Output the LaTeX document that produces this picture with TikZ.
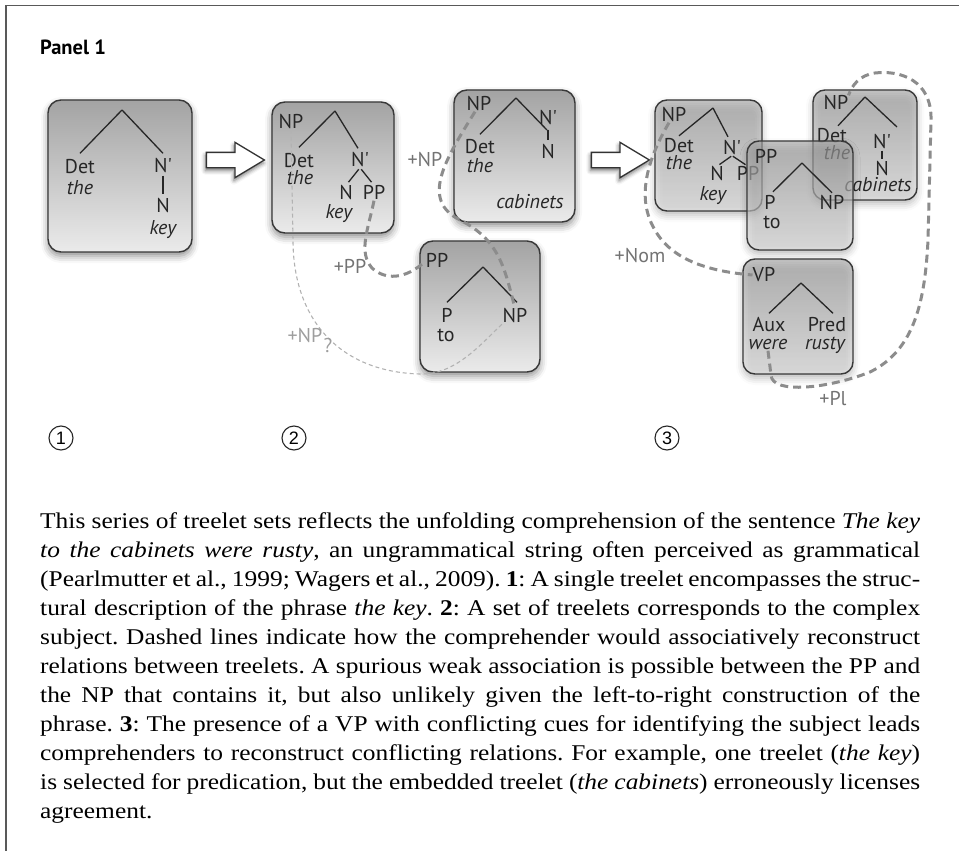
\documentclass[tikz,border=0pt]{standalone}
\usepackage{fontspec}
\setmainfont{Liberation Serif}
\newfontfamily\capfont[FakeStretch=1.13]{Liberation Serif}
\newfontfamily\labfont{PT Sans}
\newfontfamily\numfont{Liberation Sans}
\usetikzlibrary{shadows.blur,shapes.arrows}

\begin{document}
\begin{tikzpicture}[x=1pt,y=-1pt,
  treebox/.style={draw=black!78, line width=1.4pt, rounded corners=13pt,
    top color=black!36, bottom color=black!8, inner sep=0pt,
    blur shadow={shadow xshift=0pt, shadow yshift=-4pt, shadow blur radius=7pt, shadow opacity=45}},
  glassbox/.style={treebox, rounded corners=12pt, fill opacity=0.6},
  lab/.style={font=\labfont\fontsize{20}{22}\selectfont, text=black!85,
    inner sep=0pt, text height=14pt, text depth=1pt},
  word/.style={lab, font=\labfont\itshape\fontsize{20}{22}\selectfont},
  cue/.style={lab, text=black!55},
  faintcue/.style={lab, text=black!38},
  leg/.style={line width=1.3pt, draw=black!85},
  twig/.style={leg, shorten <=2pt, shorten >=4pt},
  heavy/.style={line width=3pt, draw=black!45, dash pattern=on 8pt off 5pt},
  faint/.style={line width=1.1pt, draw=black!30, dash pattern=on 4pt off 3pt},
  hollow/.style={single arrow, draw=black!80, fill=white, line width=1.3pt,
    single arrow head extend=10pt, single arrow tip angle=62, inner sep=0pt,
    text height=7pt, text depth=7pt, minimum height=58pt,
    blur shadow={shadow xshift=-1pt, shadow yshift=-3pt, shadow blur radius=4pt, shadow opacity=55}},
  circ/.style={circle, draw=black!85, line width=1.1pt, minimum size=24pt, inner sep=0pt,
    font=\numfont\fontsize{18}{18}\selectfont},
  title/.style={font=\labfont\bfseries\fontsize{20.5}{22}\selectfont, inner sep=0pt, anchor=west}
]
\useasboundingbox (0,0) rectangle (959,851);

% frame
\draw[line width=1.4pt, black!65] (6,851) -- (6,5.5) -- (959,5.5);

\node[title] (ttl) at (40,47) {Panel 1};

% ---------------- stage 1 ----------------
\node[treebox, minimum width=144pt, minimum height=152pt] (b1) at (120,176) {};
\coordinate (t1) at (122,110);
\node[lab]  (t1det)  at (80,167)  {Det};
\node[word] (t1the)  at (80,188)  {the};
\node[lab]  (t1nbar) at (163,166) {N\textquotesingle};
\node[lab]  (t1n)    at (163,206) {N};
\node[word] (t1key)  at (163,228) {key};
\draw[leg] (t1) -- ([yshift=6pt]t1det.north);
\draw[leg] (t1) -- ([yshift=5pt]t1nbar.north);
\draw[twig] (t1nbar.south) -- (t1n.north);

\node[hollow] (arr1) at (229,160) {};

% ---------------- stage 2 ----------------
\node[treebox, minimum width=122pt, minimum height=131pt] (b2) at (333,167.5) {};
\coordinate (t2) at (335,111);
\node[lab]  (t2np)   at (291,122) {NP};
\node[lab]  (t2det)  at (299,161) {Det};
\node[word] (t2the)  at (300,178) {the};
\node[lab]  (t2nbar) at (360,160) {N\textquotesingle};
\node[lab]  (t2n)    at (346,193) {N};
\node[lab]  (t2pp)   at (374,193) {PP};
\node[word] (t2key)  at (339,212) {key};
\draw[leg] (t2) -- ([yshift=6pt]t2det.north);
\draw[leg] (t2) -- ([xshift=-2pt,yshift=4pt]t2nbar.north);
\draw[twig] (t2nbar.south) -- (t2n.north);
\draw[twig] (t2nbar.south) -- (t2pp.north);

\node[treebox, minimum width=121pt, minimum height=132pt] (b3) at (514.5,156) {};
\coordinate (t3) at (516,98);
\coordinate (t3r) at (547,130);
\node[lab]  (t3np)   at (479,104) {NP};
\node[lab]  (t3det)  at (480,147) {Det};
\node[word] (t3the)  at (480,166) {the};
\node[lab]  (t3nbar) at (548,118) {N\textquotesingle};
\node[lab]  (t3n)    at (548,152) {N};
\node[word] (t3cab)  at (530,202) {cabinets};
\draw[leg] (t3) -- ([yshift=5pt]t3det.north);
\draw[leg] (t3) -- (t3r);
\draw[leg, shorten <=4pt, shorten >=4pt] (t3nbar.south) -- (t3n.north);

\node[treebox, minimum width=120pt, minimum height=131pt] (b4) at (480,306.5) {};
\coordinate (t4) at (483,267);
\node[lab]  (t4pp)   at (437,261) {PP};
\node[lab]  (t4p)    at (447,316) {P};
\node[lab]  (t4to)   at (446,335) {to};
\node[lab]  (t4np)   at (515,316) {NP};
\draw[leg] (t4) -- ([yshift=6pt]t4p.north);
\draw[leg] (t4) -- ([xshift=2pt,yshift=6pt]t4np.north);

% associations between the stage-2 treelets
\draw[faint] (t2np.south) -- (293,240) .. controls (293,320) and (340,372) .. (420,374)
  .. controls (455,375) and (480,345) .. (t4np.south west);
\draw[heavy] (t2pp.south) .. controls (368,230) and (358,252) .. (372,268)
  .. controls (385,280) and (405,280) .. (t4pp.west);
\draw[heavy] ([xshift=-4pt]t3np.south) .. controls (445,160) and (420,200) .. (460,220)
  .. controls (500,240) and (505,270) .. (t4np.north);
\node[cue] (c2np) at (425,160) {+NP};
\node[cue] (c2pp) at (350,267) {+PP};
\node[faintcue] (c2weak) at (305,336) {+NP};
\node[faintcue] (c2q) at (328,346) {?};

\node[hollow] (arr2) at (614,160) {};

% ---------------- stage 3 ----------------
\node[glassbox, minimum width=107pt, minimum height=111pt] (bA) at (708.5,155.5) {};
\coordinate (tA) at (713,108);
\node[lab]  (tAnp)   at (674,115) {NP};
\node[lab]  (tAdet)  at (679,146) {Det};
\node[word] (tAthe)  at (679,163) {the};
\node[lab]  (tAnbar) at (732,148) {N\textquotesingle};
\node[lab]  (tAn)    at (717,174) {N};
\node[lab]  (tApp)   at (748,174) {PP};
\node[word] (tAkey)  at (713,194) {key};
\draw[leg] (tA) -- ([yshift=2.5pt]tAdet.north);
\draw[leg] (tA) -- ([xshift=-4pt,yshift=3.5pt]tAnbar.north);
\draw[leg, shorten <=1pt, shorten >=3pt] (tAnbar.south) -- (tAn.north);
\draw[leg, shorten <=1pt, shorten >=3pt] (tAnbar.south) -- (tApp.north);

\node[glassbox, minimum width=104pt, minimum height=110pt] (bC) at (865,145) {};
\coordinate (tC) at (865,97);
\coordinate (tCr) at (897,127);
\node[lab]  (tCnp)   at (836,103) {NP};
\node[lab]  (tCdet)  at (832,136) {Det};
\node[word] (tCthe)  at (837,153) {the};
\node[lab]  (tCnbar) at (882,142) {N\textquotesingle};
\node[lab]  (tCn)    at (882,169) {N};
\node[word] (tCcab)  at (878,185) {cabinets};
\draw[leg] (tC) -- ([xshift=6pt,yshift=2.5pt]tCdet.north);
\draw[leg] (tC) -- (tCr);
\draw[leg, shorten <=1pt, shorten >=2pt] (tCnbar.south) -- (tCn.north);

\node[glassbox, minimum width=106pt, minimum height=109pt] (bB) at (800,195.5) {};
\coordinate (tB) at (802,163);
\node[lab]  (tBpp)   at (766,157) {PP};
\node[lab]  (tBp)    at (770,203) {P};
\node[lab]  (tBto)   at (772,222) {to};
\node[lab]  (tBnp)   at (832,203) {NP};
\draw[leg] (tB) -- ([xshift=3pt,yshift=3.5pt]tBp.north);
\draw[leg] (tB) -- ([yshift=2.5pt]tBnp.north);

\node[glassbox, minimum width=110pt, minimum height=115pt] (bD) at (798,316.5) {};
\coordinate (tD) at (801,283);
\node[lab]  (tDvp)   at (764,275) {VP};
\node[lab]  (tDaux)  at (769,325) {Aux};
\node[word] (tDwere) at (768,343) {were};
\node[lab]  (tDpred) at (827,325) {Pred};
\node[word] (tDrus)  at (825,343) {rusty};
\draw[leg] (tD) -- ([yshift=4pt]tDaux.north);
\draw[leg] (tD) -- ([xshift=6pt,yshift=4pt]tDpred.north);

% associations made by the verb phrase
\draw[heavy] ([xshift=-5pt]tAnp.south) .. controls (650,155) and (638,190) .. (650,220)
  .. controls (662,250) and (690,270) .. (tDvp.west);
\draw[heavy] (tDwere.south) -- (771,375) .. controls (772,395) and (830,388) .. (870,372)
  .. controls (915,350) and (925,300) .. (928,240) -- (931,120)
  .. controls (932,80) and (900,70) .. (875,73)
  .. controls (860,75) and (852,85) .. (tCnp.north east);
\node[cue] (c3nom) at (640,256) {+Nom};
\node[cue] (c3pl) at (833,399) {+Pl};

% stage numbers
\node[circ] (n1) at (61,438) {1};
\node[circ] (n2) at (294,438) {2};
\node[circ] (n3) at (667,438) {3};

% caption
\node[anchor=base west, inner sep=0pt, text width=880pt, align=justify,
  font=\capfont\fontsize{22.5}{29}\selectfont\frenchspacing] (cap) at (40,528) {%
This series of treelet sets reflects the unfolding comprehension of the sentence \textit{The key}\linebreak
\textit{to the cabinets were rusty}, an ungrammatical string often perceived as grammatical\linebreak
(Pearlmutter et al., 1999; Wagers et al., 2009). \textbf{1}: A single treelet encompasses the struc-\linebreak
tural description of the phrase \textit{the key}. \textbf{2}: A set of treelets corresponds to the complex\linebreak
subject. Dashed lines indicate how the comprehender would associatively reconstruct\linebreak
relations between treelets. A spurious weak association is possible between the PP and\linebreak
the NP that contains it, but also unlikely given the left-to-right construction of the\linebreak
phrase. \textbf{3}: The presence of a VP with conflicting cues for identifying the subject leads\linebreak
comprehenders to reconstruct conflicting relations. For example, one treelet (\textit{the key})\linebreak
is selected for predication, but the embedded treelet (\textit{the cabinets}) erroneously licenses\linebreak
agreement.};
\end{tikzpicture}
\end{document}
